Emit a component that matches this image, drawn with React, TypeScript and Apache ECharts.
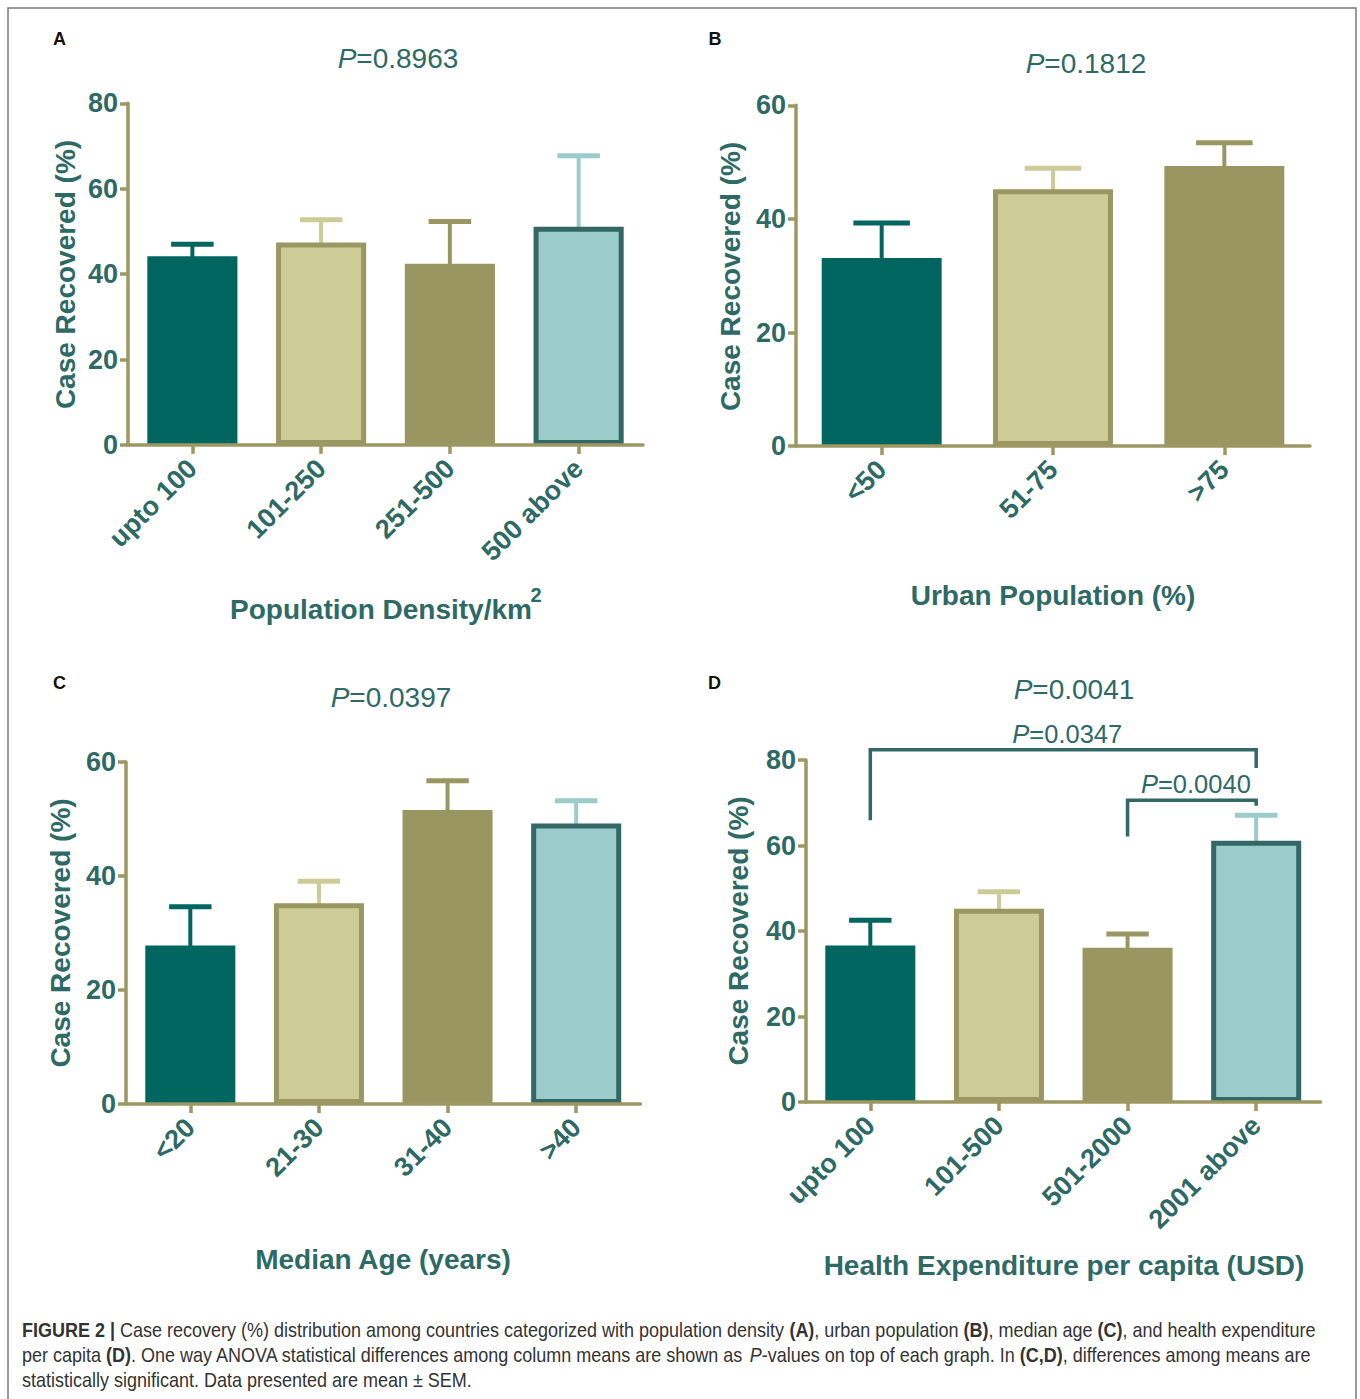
import React, { useEffect, useRef } from "react";
import * as echarts from "echarts";

// ---- data -------------------------------------------------------------
const densityCategories = ["upto 100", "101-250", "251-500", "500 above"];
const densityMeans = [44.2, 47.4, 42.4, 51.1];
const densitySem = [2.8, 5.3, 9.9, 16.6];

const urbanCategories = ["<50", "51-75", ">75"];
const urbanMeans = [33.1, 45.2, 49.3];
const urbanSem = [6.2, 3.7, 4.1];

const ageCategories = ["<20", "21-30", "31-40", ">40"];
const ageMeans = [27.8, 35.2, 51.6, 49.2];
const ageSem = [6.8, 3.9, 5.1, 4.0];

const healthCategories = ["upto 100", "101-500", "501-2000", "2001 above"];
const healthMeans = [36.6, 45.2, 36.1, 61.1];
const healthSem = [5.9, 4.0, 3.2, 6.0];

const yMaxes = [80, 60, 60, 80];
const yTicks = [0, 20, 40, 60, 80];
const anovaP = ["0.8963", "0.1812", "0.0397", "0.0041"];
const panelLetters = ["A", "B", "C", "D"];
const xTitles = [
  "Population Density/km",
  "Urban Population (%)",
  "Median Age (years)",
  "Health Expenditure per capita (USD)",
];
const yTitle = "Case Recovered (%)";

// pairwise comparisons in panel D: [from, to, bracket level, left leg end, right leg end]
const pairFrom = [0, 2];
const pairTo = [3, 3];
const pairLevel = [82.4, 70.6];
const pairLeftEnd = [65.9, 62.1];
const pairRightEnd = [78.1, 69.3];
const pairP = ["0.0347", "0.0040"];

const captionLines = [
  "{b|FIGURE 2 |} Case recovery (%) distribution among countries categorized with population density {b|(A)}, urban population {b|(B)}, median age {b|(C)}, and health expenditure",
  "per capita {b|(D)}. One way ANOVA statistical differences among column means are shown as {i|P}-values on top of each graph. In {b|(C,D)}, differences among means are",
  "statistically significant. Data presented are mean \u00b1 SEM.",
];

// ---- styling ------------------------------------------------------------
const FONT = '"Liberation Sans", Arial, Helvetica, sans-serif';
const INK = "#2d6a66";
const AXIS = "#9d9862";
const CAPTION_INK = "#333333";
const barFill = ["#00665f", "#cdcb97", "#9a9662", "#9ccbcb"];
const barBorder = ["#00665f", "#9b9762", "#9a9662", "#346866"];
const errColor = ["#00665f", "#cdcb97", "#9a9662", "#9ccbcb"];

const grids = [
  { left: 128, top: 103.3, width: 515, height: 341.6 },
  { left: 796, top: 105.3, width: 514, height: 340.8 },
  { left: 126, top: 762, width: 514.5, height: 342 },
  { left: 806, top: 760, width: 514.5, height: 342 },
];
const pPos = [
  [398, 58],
  [1086, 63],
  [391, 697],
  [1074, 689.5],
];
const letterPos = [
  [59.5, 39],
  [715, 39],
  [59.5, 682.5],
  [714.5, 682.5],
];
const xTitlePos = [
  [381, 609],
  [1053, 595.5],
  [383, 1259.5],
  [1064, 1265.5],
];
const yTitlePos = [
  [65, 274.5],
  [730, 276.5],
  [60, 933],
  [738.5, 931],
];

const panels = [
  { categories: densityCategories, means: densityMeans, sem: densitySem },
  { categories: urbanCategories, means: urbanMeans, sem: urbanSem },
  { categories: ageCategories, means: ageMeans, sem: ageSem },
  { categories: healthCategories, means: healthMeans, sem: healthSem },
];

function errorBarRenderer(params: any, api: any) {
  const idx = api.value(0);
  const mean = api.value(1);
  const sem = api.value(2);
  const base = api.coord([idx, mean]);
  const top = api.coord([idx, mean + sem]);
  const half = api.size([1, 0])[0] * 0.165;
  const color = errColor[params.dataIndex % errColor.length];
  return {
    type: "group",
    children: [
      {
        type: "line",
        shape: { x1: base[0], y1: base[1] + 3, x2: top[0], y2: top[1] },
        style: { stroke: color, lineWidth: 4 },
      },
      {
        type: "line",
        shape: { x1: top[0] - half, y1: top[1], x2: top[0] + half, y2: top[1] },
        style: { stroke: color, lineWidth: 5 },
      },
    ],
  };
}

function bracketRenderer(params: any, api: any) {
  const a = api.value(0);
  const b = api.value(1);
  const level = api.value(2);
  const leftEnd = api.value(3);
  const rightEnd = api.value(4);
  const pLeftTop = api.coord([a, level]);
  const pRightTop = api.coord([b, level]);
  const pLeftBottom = api.coord([a, leftEnd]);
  const pRightBottom = api.coord([b, rightEnd]);
  return {
    type: "group",
    children: [
      {
        type: "polyline",
        shape: {
          points: [
            [pLeftBottom[0], pLeftBottom[1]],
            [pLeftTop[0], pLeftTop[1]],
            [pRightTop[0], pRightTop[1]],
            [pRightBottom[0], pRightBottom[1]],
          ],
        },
        style: { stroke: "#336866", lineWidth: 3.5, fill: null },
      },
      {
        type: "text",
        x: (pLeftTop[0] + pRightTop[0]) / 2 + 4,
        y: pLeftTop[1] - 16,
        style: {
          text: "{i|P}=" + pairP[params.dataIndex],
          fill: INK,
          fontSize: 25.5,
          fontFamily: FONT,
          align: "center",
          verticalAlign: "middle",
          rich: { i: { fontStyle: "italic", fontSize: 25.5, fontFamily: FONT, fill: INK } },
        },
      },
    ],
  };
}

function buildOption() {
  const axisLineStyle = { color: AXIS, width: 3.5 };
  const series: any[] = [];
  panels.forEach((p, k) => {
    series.push({
      type: "custom",
      xAxisIndex: k,
      yAxisIndex: k,
      z: 1,
      renderItem: errorBarRenderer,
      encode: { x: 0, y: 1 },
      data: p.means.map((m, i) => [i, m, p.sem[i]]),
      clip: false,
    });
    series.push({
      type: "bar",
      xAxisIndex: k,
      yAxisIndex: k,
      z: 2,
      barWidth: "70%",
      data: p.means.map((m, i) => ({
        value: m,
        itemStyle: { color: barFill[i], borderColor: barBorder[i], borderWidth: 5 },
      })),
    });
  });
  series.push({
    type: "custom",
    xAxisIndex: 3,
    yAxisIndex: 3,
    z: 4,
    clip: false,
    renderItem: bracketRenderer,
    encode: { x: 0, y: 2 },
    data: pairFrom.map((f, i) => [f, pairTo[i], pairLevel[i], pairLeftEnd[i], pairRightEnd[i]]),
  });

  const graphic: any[] = [
    {
      type: "rect",
      shape: { x: 8, y: 8, width: 1348, height: 1420 },
      style: { fill: null, stroke: "#7a7a7a", lineWidth: 1.5 },
      silent: true,
    },
  ];
  panels.forEach((_, k) => {
    graphic.push({
      type: "text",
      x: letterPos[k][0],
      y: letterPos[k][1],
      style: {
        text: panelLetters[k],
        fill: "#111",
        fontSize: 18,
        fontWeight: "bold",
        fontFamily: FONT,
        align: "center",
        verticalAlign: "middle",
      },
    });
    graphic.push({
      type: "text",
      x: pPos[k][0],
      y: pPos[k][1],
      style: {
        text: "{i|P}=" + anovaP[k],
        fill: INK,
        fontSize: 28,
        fontFamily: FONT,
        align: "center",
        verticalAlign: "middle",
        rich: { i: { fontStyle: "italic", fontSize: 28, fontFamily: FONT, fill: INK } },
      },
    });
    graphic.push({
      type: "text",
      x: xTitlePos[k][0],
      y: xTitlePos[k][1],
      style: {
        text: xTitles[k],
        fill: INK,
        fontSize: 28,
        fontWeight: "bold",
        fontFamily: FONT,
        align: "center",
        verticalAlign: "middle",
      },
    });
    graphic.push({
      type: "text",
      x: yTitlePos[k][0],
      y: yTitlePos[k][1],
      rotation: Math.PI / 2,
      style: {
        text: yTitle,
        fill: INK,
        fontSize: 28,
        fontWeight: "bold",
        fontFamily: FONT,
        align: "center",
        verticalAlign: "middle",
      },
    });
  });
  // km² exponent
  graphic.push({
    type: "text",
    x: 536,
    y: 595,
    style: {
      text: "2",
      fill: INK,
      fontSize: 20,
      fontWeight: "bold",
      fontFamily: FONT,
      align: "center",
      verticalAlign: "middle",
    },
  });
  // caption, set in a condensed face
  captionLines.forEach((line, i) => {
    graphic.push({
      type: "text",
      x: 22,
      y: 1330 + i * 25,
      scaleX: 0.9,
      style: {
        text: line,
        fill: CAPTION_INK,
        fontSize: 20,
        fontFamily: FONT,
        align: "left",
        verticalAlign: "middle",
        rich: {
          b: { fontWeight: "bold", fontSize: 20, fontFamily: FONT, fill: CAPTION_INK },
          i: { fontStyle: "italic", fontSize: 20, fontFamily: FONT, fill: CAPTION_INK },
        },
      },
    });
  });

  return {
    animation: false,
    backgroundColor: "#ffffff",
    grid: grids.map((g) => ({ ...g, containLabel: false })),
    xAxis: panels.map((p, k) => ({
      type: "category",
      gridIndex: k,
      data: p.categories,
      z: 5,
      axisLine: { show: true, lineStyle: axisLineStyle },
      axisTick: { show: true, alignWithLabel: true, length: 9, lineStyle: axisLineStyle },
      axisLabel: {
        interval: 0,
        rotate: 45,
        margin: 19,
        color: INK,
        fontSize: 27,
        fontWeight: "bold",
        fontFamily: FONT,
      },
      splitLine: { show: false },
    })),
    yAxis: panels.map((_, k) => ({
      type: "value",
      gridIndex: k,
      min: yTicks[0],
      max: yMaxes[k],
      interval: yTicks[1] - yTicks[0],
      z: 5,
      axisLine: { show: true, lineStyle: axisLineStyle },
      axisTick: { show: true, length: 8, lineStyle: axisLineStyle },
      axisLabel: {
        margin: 10,
        color: INK,
        fontSize: 27,
        fontWeight: "bold",
        fontFamily: FONT,
      },
      splitLine: { show: false },
    })),
    series,
    graphic,
  };
}

export default function App() {
  const ref = useRef<HTMLDivElement>(null);
  useEffect(() => {
    if (!ref.current) return;
    const chart = echarts.init(ref.current, undefined, { renderer: "svg" });
    chart.setOption(buildOption() as any);
    return () => chart.dispose();
  }, []);
  return (
    <div
      ref={ref}
      style={{ position: "absolute", left: 0, top: 0, width: 1360, height: 1399, background: "#fff" }}
    />
  );
}
